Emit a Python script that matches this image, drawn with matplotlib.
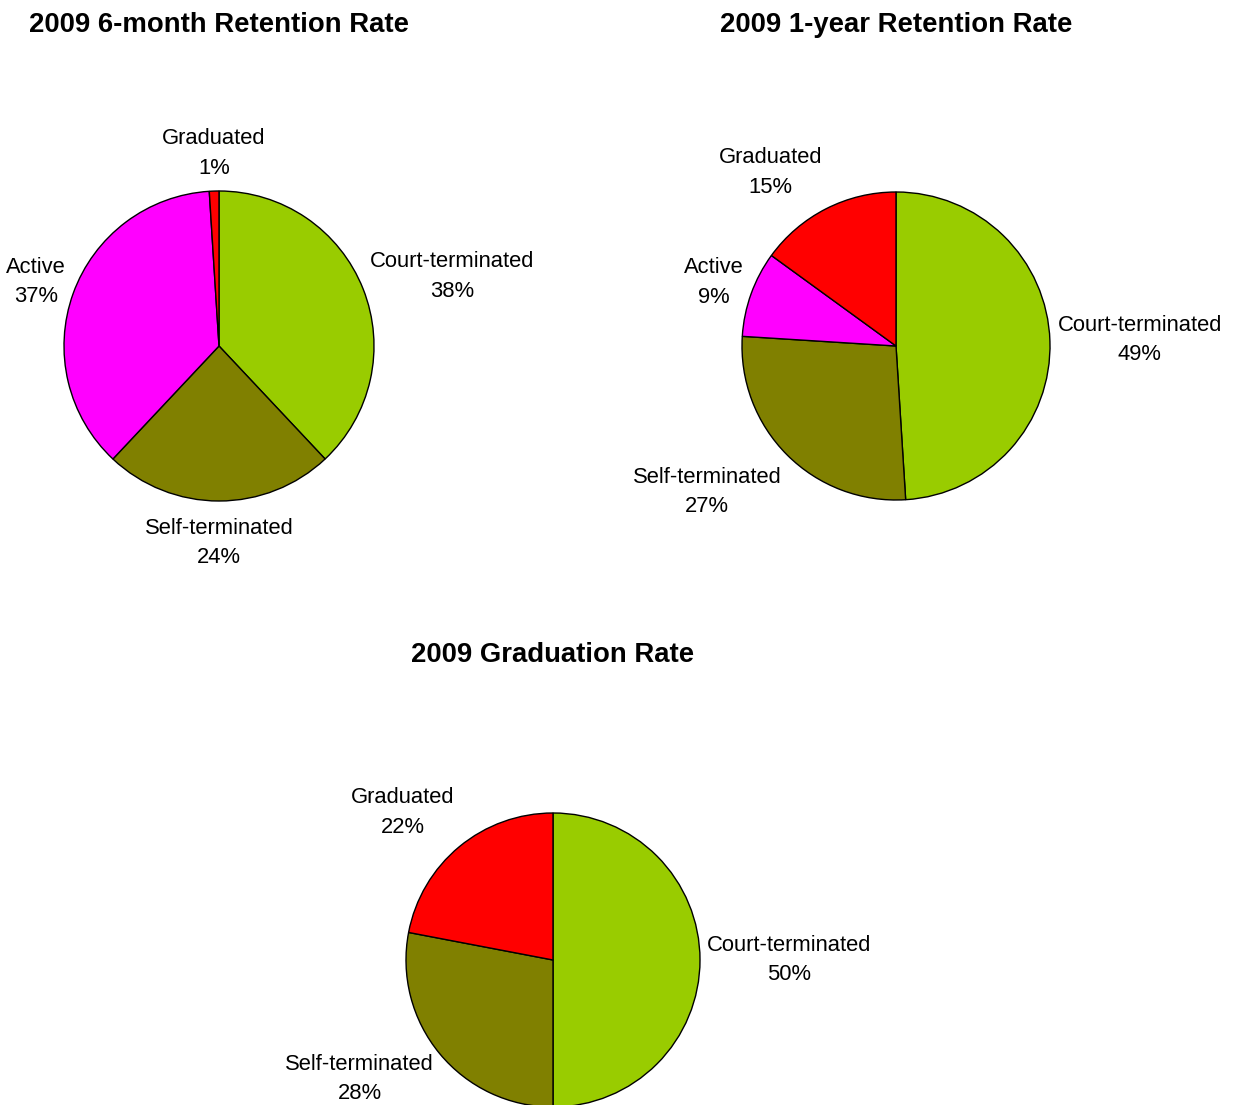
import numpy as np
import matplotlib
matplotlib.use("Agg")
import matplotlib.pyplot as plt

plt.rcParams['font.family'] = ['Liberation Sans', 'DejaVu Sans']

# ================== DATA ===================
categories_6m = ["Court-terminated", "Self-terminated", "Active", "Graduated"]
values_6m = [38, 24, 37, 1]

categories_1y = ["Court-terminated", "Self-terminated", "Active", "Graduated"]
values_1y = [49, 27, 9, 15]

categories_grad = ["Court-terminated", "Self-terminated", "Graduated"]
values_grad = [50, 28, 22]

COLORS = {
    "Court-terminated": "#99CC00",
    "Self-terminated": "#808000",
    "Active": "#FF00FF",
    "Graduated": "#FF0000",
}

W, H = 1234, 1105
fig = plt.figure(figsize=(W / 100, H / 100), dpi=100)


def draw_pie(cx, cy, r, title, tx, ty, cats, vals, top_pad=1.11):
    """Place a pie centred at pixel (cx, cy) with radius r; title at pixel (tx, ty)."""
    ax = fig.add_axes([(cx - r) / W, (H - cy - r) / H, 2 * r / W, 2 * r / H])
    wedges, _ = ax.pie(vals, colors=[COLORS[c] for c in cats], startangle=90,
                       counterclock=False, radius=1,
                       wedgeprops=dict(edgecolor="black", linewidth=1.0))
    ax.set_xlim(-1, 1)
    ax.set_ylim(-1, 1)
    total = float(sum(vals))
    for w, c, v in zip(wedges, cats, vals):
        mid = np.deg2rad((w.theta1 + w.theta2) / 2)
        cs, sn = np.cos(mid), np.sin(mid)
        ha = "left" if cs > 0.25 else ("right" if cs < -0.25 else "center")
        va = "bottom" if sn > 0.5 else ("top" if sn < -0.5 else "center")
        x = 1.05 * cs
        if va == "center":
            y = 1.22 * sn
        elif va == "top":
            y = top_pad * sn
        else:
            y = 1.08 * sn
        ax.text(x, y, f"{c}\n{v / total * 100:.0f}%", ha=ha, va=va,
                multialignment="center", fontsize=15.8, linespacing=1.52,
                clip_on=False)
    fig.text(tx / W, 1 - ty / H, title, ha="center", va="center",
             fontsize=19.8, fontweight="bold")


draw_pie(219, 346, 155, "2009 6-month Retention Rate", 219, 25, categories_6m, values_6m)
draw_pie(896, 346, 154, "2009 1-year Retention Rate", 896, 25, categories_1y, values_1y)
# bottom label of the last pie sits right at the page edge, keep it inside
draw_pie(553, 960, 147, "2009 Graduation Rate", 553, 655, categories_grad, values_grad,
         top_pad=1.0)

fig.savefig("out.png", dpi=100, facecolor="white")
